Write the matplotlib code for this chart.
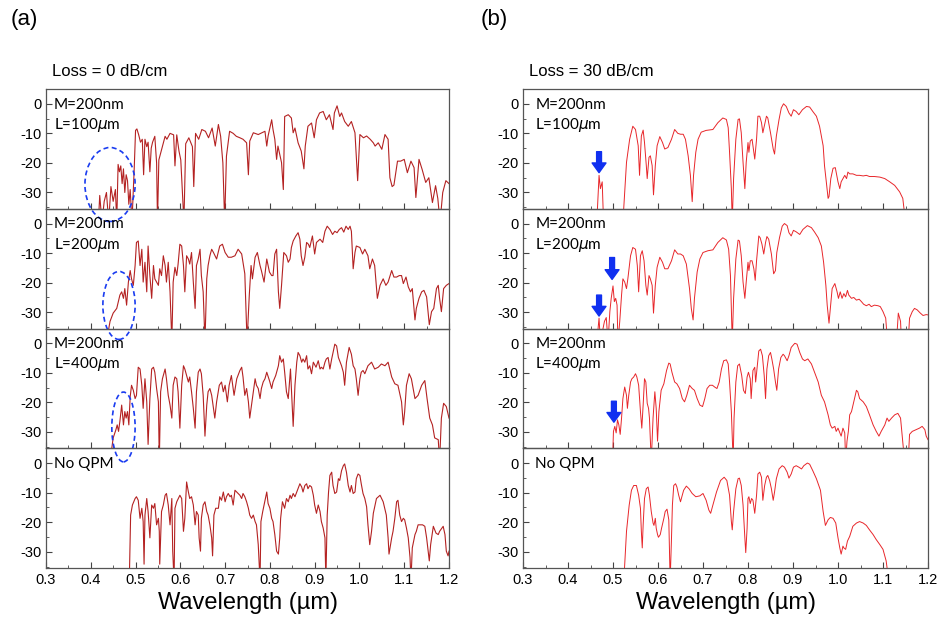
import matplotlib
matplotlib.use("Agg")
import matplotlib.pyplot as plt
from matplotlib.patches import Ellipse
from matplotlib.ticker import MultipleLocator

plt.rcParams['font.family'] = ['Liberation Sans', 'DejaVu Sans']

# ---- data: (wavelength um, power dB) ----
a1 = [(0.417, -40), (0.420, -31), (0.425, -40), (0.430, -33), (0.435, -30), (0.440, -40), (0.445, -28),
      (0.450, -33), (0.455, -29), (0.458, -40), (0.461, -20.5), (0.464, -23), (0.467, -21), (0.470, -27),
      (0.473, -22), (0.476, -30), (0.479, -24), (0.482, -26), (0.485, -34), (0.488, -29), (0.492, -40),
      (0.497, -22), (0.500, -9), (0.503, -8.5), (0.507, -10.5), (0.511, -13), (0.515, -12), (0.518, -24),
      (0.521, -12), (0.525, -14.5), (0.528, -13), (0.532, -23), (0.535, -15), (0.538, -13), (0.543, -11),
      (0.547, -20), (0.549, -40), (0.552, -19), (0.559, -15), (0.566, -11), (0.570, -12), (0.577, -10),
      (0.585, -10.5), (0.588, -21), (0.592, -10.5), (0.597, -16), (0.601, -19), (0.608, -40), (0.612, -13.5),
      (0.619, -11.5), (0.627, -14.5), (0.630, -28), (0.634, -10), (0.641, -12), (0.648, -8.7), (0.656, -9.3),
      (0.663, -11.5), (0.671, -8.2), (0.678, -14.3), (0.685, -7), (0.690, -11), (0.695, -20), (0.699, -40),
      (0.703, -17.7), (0.710, -9.3), (0.718, -10), (0.725, -11), (0.733, -11.5), (0.740, -12), (0.748, -13.2),
      (0.752, -24), (0.755, -12.6), (0.763, -9.8), (0.774, -10.4), (0.782, -9.8), (0.789, -9.3), (0.793, -14.3),
      (0.796, -10.9), (0.804, -5.4), (0.807, -8.7), (0.811, -12), (0.815, -18.8), (0.818, -14.3), (0.826, -19.9),
      (0.830, -29), (0.833, -4.3), (0.841, -3.7), (0.848, -4.8), (0.852, -9.8), (0.856, -8.2), (0.863, -13.2),
      (0.870, -16), (0.876, -22), (0.879, -14.3), (0.885, -7.6), (0.893, -6.5), (0.899, -11.5), (0.904, -5.4),
      (0.911, -3.1), (0.919, -2.6), (0.926, -5.4), (0.933, -3.7), (0.941, -8.7), (0.944, -3.1), (0.950, -0.7),
      (0.956, -4.3), (0.960, -3.1), (0.967, -6), (0.975, -7.6), (0.982, -6), (0.990, -9.8), (0.996, -26),
      (1.001, -10.4), (1.009, -11.5), (1.016, -10.9), (1.024, -12), (1.031, -13.2), (1.035, -14.3),
      (1.042, -13.2), (1.050, -15.4), (1.057, -10.4), (1.064, -12), (1.068, -25), (1.073, -28), (1.077, -27.5),
      (1.085, -19.4), (1.092, -19.4), (1.100, -18.8), (1.107, -23.3), (1.115, -19.4), (1.122, -21.6),
      (1.126, -31.7), (1.133, -18.8), (1.140, -22.2), (1.148, -26.6), (1.155, -25), (1.163, -33.4),
      (1.170, -27.7), (1.175, -32), (1.180, -40), (1.186, -30), (1.193, -26), (1.200, -27)]

a2 = [(0.435, -40), (0.443, -33.1), (0.450, -30.3), (0.458, -28.7), (0.465, -24.2), (0.469, -23.1),
      (0.473, -25.3), (0.476, -22), (0.480, -27.6), (0.484, -19.8), (0.488, -15.9), (0.491, -18.7),
      (0.495, -20.9), (0.499, -14.2), (0.502, -6.4), (0.506, -5.9), (0.510, -14.2), (0.514, -8.7),
      (0.517, -19.8), (0.521, -13.1), (0.525, -23.1), (0.528, -7.6), (0.532, -17.6), (0.536, -25.3),
      (0.540, -14.2), (0.543, -18.7), (0.547, -19.8), (0.551, -20.9), (0.554, -15.3), (0.558, -17.6),
      (0.562, -10.9), (0.566, -14.2), (0.569, -19.8), (0.573, -13.1), (0.577, -23.1), (0.581, -40),
      (0.584, -19.8), (0.588, -14.8), (0.592, -17.6), (0.595, -13.7), (0.599, -7), (0.603, -7.6),
      (0.607, -14.2), (0.610, -23.1), (0.614, -10.9), (0.618, -12), (0.621, -13.7), (0.625, -9.8),
      (0.629, -19.8), (0.633, -28.7), (0.636, -14.2), (0.640, -12), (0.644, -8.7), (0.647, -17.6),
      (0.651, -23.1), (0.655, -40), (0.659, -18.7), (0.662, -14.2), (0.666, -10.9), (0.670, -8.7),
      (0.674, -9.8), (0.681, -12), (0.688, -7.6), (0.694, -7), (0.700, -9.8), (0.707, -11.4), (0.714, -11.4),
      (0.722, -10.9), (0.729, -8.7), (0.737, -10.3), (0.744, -17), (0.749, -40), (0.754, -24.2),
      (0.758, -14.2), (0.761, -18.7), (0.767, -11.4), (0.772, -9.8), (0.778, -14.2), (0.781, -15.9),
      (0.787, -19.8), (0.793, -12), (0.799, -16.4), (0.804, -17.6), (0.807, -17.6), (0.811, -10.3),
      (0.815, -8.7), (0.819, -23.1), (0.822, -28.7), (0.826, -20.9), (0.831, -9.8), (0.837, -10.9),
      (0.841, -13.1), (0.845, -12), (0.848, -8.1), (0.852, -5.9), (0.858, -4.2), (0.863, -3.1), (0.867, -5.3),
      (0.870, -10.9), (0.874, -14.2), (0.878, -11.4), (0.882, -6.4), (0.886, -7), (0.889, -8.1), (0.895, -4.2),
      (0.900, -10.3), (0.904, -6.4), (0.912, -5.3), (0.918, -6.4), (0.923, -2.6), (0.928, -0.9), (0.934, -2),
      (0.940, -3.7), (0.945, -2.6), (0.950, -3.1), (0.955, -2), (0.960, -1.4), (0.965, -2.9), (0.970, -0.9),
      (0.975, -2), (0.979, -0.9), (0.982, -2.6), (0.986, -15.3), (0.990, -9.8), (0.993, -7.6), (1.001, -8.1),
      (1.007, -10.3), (1.012, -8.7), (1.019, -10.9), (1.023, -15.3), (1.029, -12), (1.034, -14.2),
      (1.040, -25.3), (1.046, -20.9), (1.053, -18.7), (1.059, -20.9), (1.064, -19.8), (1.072, -15.9),
      (1.077, -18.1), (1.083, -18.1), (1.089, -17.6), (1.094, -17.6), (1.098, -20.3), (1.104, -18.1),
      (1.109, -21.4), (1.114, -23.1), (1.118, -22), (1.124, -32.6), (1.127, -28.7), (1.133, -25.3),
      (1.139, -23.1), (1.144, -22.6), (1.150, -24.8), (1.156, -34.2), (1.161, -29.8), (1.166, -28.7),
      (1.172, -22), (1.176, -20.9), (1.179, -25.3), (1.183, -29.8), (1.188, -22), (1.194, -20.9), (1.200, -20.3)]

a3 = [(0.443, -40), (0.450, -32), (0.456, -29.3), (0.459, -27.6), (0.462, -29.8), (0.465, -26.4),
      (0.469, -20.9), (0.473, -27.6), (0.476, -23.1), (0.479, -25.3), (0.482, -23.1), (0.485, -27.6),
      (0.488, -18.1), (0.491, -14.2), (0.495, -15.9), (0.499, -18.7), (0.502, -17.6), (0.506, -8.1),
      (0.510, -8.7), (0.514, -14.2), (0.517, -22), (0.521, -12), (0.525, -19.8), (0.528, -34.2),
      (0.532, -18.7), (0.536, -8.7), (0.540, -8.1), (0.543, -9.8), (0.547, -15.3), (0.551, -19.8),
      (0.553, -40), (0.556, -16.4), (0.560, -12), (0.566, -8.7), (0.569, -12), (0.573, -17.6), (0.577, -20.9),
      (0.581, -25.3), (0.584, -14.2), (0.588, -11.4), (0.592, -12), (0.595, -16.4), (0.599, -28.7),
      (0.603, -14.2), (0.607, -7.6), (0.610, -8.7), (0.614, -10.9), (0.618, -13.1), (0.621, -11.4),
      (0.625, -16.4), (0.629, -22), (0.633, -28.7), (0.636, -16.4), (0.640, -9.8), (0.644, -8.7),
      (0.647, -10.3), (0.651, -17.6), (0.655, -31.4), (0.659, -20.9), (0.662, -16.4), (0.666, -15.3),
      (0.670, -17.6), (0.674, -22), (0.677, -25.3), (0.681, -19.8), (0.687, -14.2), (0.692, -13.1),
      (0.696, -16.4), (0.700, -14.2), (0.705, -19.8), (0.709, -14.2), (0.714, -10.9), (0.720, -17.6),
      (0.726, -12), (0.733, -9.2), (0.737, -8.1), (0.740, -11.4), (0.744, -17.6), (0.748, -15.3),
      (0.752, -19.8), (0.755, -25.3), (0.759, -20.9), (0.763, -16.4), (0.767, -12), (0.770, -14.2),
      (0.774, -15.3), (0.778, -18.7), (0.781, -15.3), (0.785, -13.1), (0.789, -12), (0.793, -9.8),
      (0.799, -12.6), (0.804, -15.3), (0.807, -13.1), (0.813, -10.9), (0.819, -7.6), (0.822, -4.2),
      (0.826, -6.4), (0.830, -5.3), (0.833, -9.8), (0.837, -16.4), (0.841, -18.7), (0.846, -8.7),
      (0.852, -28.1), (0.856, -14.2), (0.860, -6.4), (0.863, -3.1), (0.867, -4.2), (0.871, -6.4),
      (0.874, -5.3), (0.878, -6.4), (0.882, -4.2), (0.885, -8.7), (0.889, -7.6), (0.893, -10.3),
      (0.897, -6.4), (0.903, -8.1), (0.908, -5.9), (0.912, -8.7), (0.915, -8.1), (0.919, -8.7),
      (0.923, -6.4), (0.926, -5.3), (0.930, -4.8), (0.934, -8.7), (0.938, -5.3), (0.941, -3.1),
      (0.945, -0.3), (0.949, -0.9), (0.953, -4.8), (0.960, -7.6), (0.964, -9.8), (0.967, -14.2),
      (0.971, -6.4), (0.977, -1.4), (0.982, -3.7), (0.986, -7.6), (0.990, -8.7), (0.993, -12),
      (0.997, -17.6), (1.001, -12), (1.004, -9.8), (1.008, -9.2), (1.012, -10.3), (1.019, -7.6),
      (1.027, -6.4), (1.034, -8.7), (1.042, -8.1), (1.049, -7), (1.057, -7.6), (1.064, -6.4), (1.072, -11.4),
      (1.079, -13.7), (1.086, -14.2), (1.094, -19.8), (1.098, -27.6), (1.101, -23.1), (1.105, -14.2),
      (1.111, -10.3), (1.116, -12), (1.124, -18.7), (1.131, -17.6), (1.139, -14.2), (1.146, -12.6),
      (1.151, -18.7), (1.157, -25.3), (1.163, -27.6), (1.168, -32), (1.176, -32.6), (1.179, -40),
      (1.183, -25.3), (1.188, -20.3), (1.194, -21.4), (1.200, -25.3)]

a4 = [(0.486, -40), (0.489, -17.6), (0.493, -14.2), (0.499, -12), (0.502, -11.4), (0.506, -12.6),
      (0.510, -18.7), (0.514, -15.3), (0.517, -19.8), (0.519, -34.2), (0.521, -17.6), (0.525, -12),
      (0.528, -16.4), (0.532, -25.3), (0.536, -14.2), (0.540, -15.3), (0.543, -13.7), (0.547, -20.9),
      (0.551, -18.7), (0.553, -23.1), (0.554, -34.2), (0.558, -16.4), (0.562, -14.2), (0.566, -10.9),
      (0.569, -10.3), (0.573, -14.2), (0.577, -20.9), (0.581, -12), (0.583, -29.8), (0.586, -40),
      (0.588, -15.3), (0.592, -13.1), (0.599, -10.9), (0.603, -12), (0.607, -23.1), (0.610, -18.7),
      (0.614, -6.4), (0.618, -9.8), (0.621, -12), (0.625, -11.4), (0.629, -14.2), (0.633, -20.9),
      (0.636, -16.4), (0.640, -17.6), (0.642, -25.3), (0.645, -29.8), (0.647, -18.7), (0.651, -14.2),
      (0.655, -13.1), (0.659, -16.4), (0.662, -17.6), (0.666, -20.9), (0.670, -25.3), (0.672, -31.4),
      (0.675, -17.6), (0.679, -15.3), (0.685, -15.3), (0.688, -11.4), (0.692, -12.6), (0.696, -9.8),
      (0.700, -13.1), (0.703, -11.4), (0.707, -10.3), (0.711, -11.4), (0.714, -10.9), (0.718, -14.2),
      (0.722, -9.2), (0.726, -9.8), (0.729, -10.3), (0.733, -10.9), (0.737, -12), (0.740, -10.3),
      (0.744, -11.4), (0.748, -13.1), (0.752, -15.3), (0.755, -17.6), (0.759, -18.7), (0.763, -17.6),
      (0.767, -19.8), (0.770, -20.9), (0.774, -27.6), (0.778, -40), (0.780, -19.8), (0.784, -16.4),
      (0.787, -14.2), (0.793, -9.8), (0.796, -13.7), (0.800, -15.3), (0.804, -18.7), (0.807, -19.8),
      (0.811, -24.2), (0.815, -29.8), (0.819, -30.8), (0.822, -25.3), (0.824, -18.7), (0.828, -13.1),
      (0.833, -15.3), (0.837, -12), (0.841, -13.1), (0.845, -10.9), (0.848, -12), (0.852, -10.3),
      (0.856, -11.4), (0.860, -9.8), (0.863, -8.7), (0.867, -7), (0.871, -8.1), (0.874, -9.8), (0.878, -7.6),
      (0.882, -7), (0.885, -8.7), (0.889, -7.6), (0.893, -8.1), (0.897, -10.9), (0.900, -14.2), (0.904, -17),
      (0.908, -14.2), (0.912, -16.4), (0.915, -19.8), (0.919, -22), (0.923, -25.3), (0.925, -40),
      (0.928, -17.6), (0.931, -9.8), (0.934, -4.2), (0.938, -3.1), (0.941, -7.6), (0.945, -10.3),
      (0.949, -9.8), (0.953, -5.3), (0.956, -5.9), (0.960, -2.6), (0.964, -0.9), (0.967, -0.3), (0.971, -3.1),
      (0.975, -7.6), (0.979, -9.8), (0.982, -7.6), (0.986, -10.3), (0.990, -9.8), (0.993, -5.3),
      (0.997, -3.7), (1.001, -4.2), (1.004, -7), (1.008, -10.3), (1.012, -12), (1.016, -14.8),
      (1.019, -20.9), (1.023, -27.6), (1.027, -23.1), (1.031, -17), (1.038, -12), (1.046, -10.9),
      (1.053, -13.1), (1.060, -17.6), (1.064, -25.3), (1.066, -30.8), (1.072, -25.3), (1.075, -23.1),
      (1.079, -18.7), (1.083, -13.1), (1.086, -12.6), (1.090, -17.6), (1.094, -19.8), (1.098, -18.7),
      (1.101, -19.2), (1.105, -22), (1.109, -25.3), (1.113, -32), (1.115, -40), (1.118, -28.7),
      (1.124, -24.2), (1.127, -23.1), (1.131, -20.9), (1.135, -20.9), (1.141, -20.9), (1.146, -21.4),
      (1.150, -25.3), (1.156, -33.1), (1.159, -27.6), (1.165, -21.4), (1.171, -23.7), (1.176, -24.2),
      (1.179, -23.1), (1.187, -21.4), (1.191, -24.2), (1.194, -29.8), (1.198, -31.4), (1.200, -29.8)]

b1 = [(0.464, -40), (0.469, -24.2), (0.472, -28.7), (0.476, -26.4), (0.479, -40), (0.522, -40),
      (0.530, -19.8), (0.537, -12), (0.544, -7.6), (0.550, -8.7), (0.556, -14.2), (0.559, -24.2),
      (0.563, -10.9), (0.567, -8.9), (0.570, -13.1), (0.574, -20.9), (0.576, -25.3), (0.580, -18.1),
      (0.583, -17.6), (0.587, -20.9), (0.590, -30.8), (0.594, -20.9), (0.598, -14.2), (0.604, -11.1),
      (0.610, -13.1), (0.615, -15.3), (0.622, -14.8), (0.630, -12), (0.637, -8.7), (0.644, -10),
      (0.650, -10.3), (0.656, -10.3), (0.661, -12), (0.667, -17.6), (0.672, -24.2), (0.676, -33.1),
      (0.679, -24.2), (0.684, -16.4), (0.689, -12), (0.696, -9.6), (0.707, -9), (0.722, -8.7), (0.733, -6.4),
      (0.744, -4.8), (0.752, -5.3), (0.756, -8.1), (0.759, -16.4), (0.763, -28.7), (0.765, -40),
      (0.768, -25.3), (0.773, -12), (0.778, -5.3), (0.781, -5.1), (0.785, -9.8), (0.789, -19.8),
      (0.793, -28.7), (0.796, -19.8), (0.800, -13.1), (0.802, -16.4), (0.805, -12.6), (0.809, -12),
      (0.811, -14.2), (0.815, -18.7), (0.819, -12), (0.822, -4.2), (0.826, -4.2), (0.830, -6.4),
      (0.833, -9.8), (0.837, -7), (0.841, -4.2), (0.844, -4.8), (0.850, -9.8), (0.856, -15.3), (0.859, -17),
      (0.863, -10.9), (0.869, -5.3), (0.874, -1.4), (0.879, 0), (0.885, -0.9), (0.891, -3.1), (0.896, -4.2),
      (0.901, -2), (0.907, -2.6), (0.913, -3.7), (0.921, -2), (0.930, -0.9), (0.937, -1.1), (0.944, -2.6),
      (0.952, -4.2), (0.959, -7.6), (0.967, -14.2), (0.970, -20.9), (0.974, -26.4), (0.978, -32),
      (0.980, -31.4), (0.984, -25.3), (0.989, -21.8), (0.994, -21.6), (1.000, -26.4), (1.004, -28.7),
      (1.007, -26.4), (1.011, -25.3), (1.015, -24.2), (1.019, -25.3), (1.022, -23.1), (1.026, -23.7),
      (1.033, -23.7), (1.041, -24.2), (1.048, -24.2), (1.056, -24.4), (1.063, -24.2), (1.070, -24.6),
      (1.081, -24.6), (1.093, -24.8), (1.104, -25.3), (1.115, -26.4), (1.126, -27.6), (1.137, -29.8),
      (1.144, -32), (1.150, -40)]

b2 = [(0.464, -40), (0.469, -32), (0.472, -40), (0.481, -33.1), (0.485, -31.8), (0.489, -40), (0.493, -29.8),
      (0.496, -25.3), (0.500, -21.1), (0.503, -26.4), (0.506, -25.3), (0.509, -27.6), (0.511, -40),
      (0.515, -33.1), (0.519, -24.2), (0.522, -18.7), (0.526, -19.8), (0.530, -22), (0.533, -18.7),
      (0.539, -10.9), (0.544, -8.1), (0.550, -8.7), (0.554, -14.2), (0.557, -23.1), (0.561, -10.9),
      (0.565, -9.2), (0.569, -12.6), (0.573, -20.9), (0.576, -24.2), (0.580, -17.6), (0.583, -18.7),
      (0.587, -20.9), (0.590, -30.3), (0.594, -20.9), (0.598, -14.8), (0.604, -11.4), (0.610, -13.1),
      (0.615, -15.3), (0.622, -15.3), (0.630, -12.6), (0.637, -8.9), (0.644, -10.3), (0.650, -10.3),
      (0.656, -10.9), (0.663, -13.7), (0.670, -22), (0.674, -28.7), (0.678, -32.6), (0.681, -25.3),
      (0.687, -16.4), (0.693, -12), (0.700, -9.8), (0.711, -9.2), (0.722, -8.9), (0.733, -6.4), (0.744, -4.8),
      (0.752, -5.6), (0.757, -8.7), (0.761, -17.6), (0.765, -40), (0.768, -25.3), (0.773, -12), (0.778, -5.6),
      (0.781, -5.9), (0.785, -10.9), (0.789, -19.8), (0.793, -25.3), (0.796, -19.8), (0.800, -13.1),
      (0.802, -15.9), (0.805, -12.6), (0.809, -12.6), (0.813, -15.3), (0.816, -19.2), (0.819, -12.6),
      (0.824, -4.2), (0.827, -4.8), (0.831, -7), (0.835, -10.3), (0.839, -6.4), (0.842, -4.4), (0.846, -5.3),
      (0.852, -10.3), (0.857, -17), (0.861, -15.9), (0.864, -9.8), (0.870, -4.8), (0.876, -0.9), (0.881, 0),
      (0.887, -0.7), (0.891, -3.1), (0.896, -4.2), (0.901, -2.3), (0.907, -2.8), (0.915, -3.7), (0.922, -2),
      (0.932, -0.7), (0.941, -1.4), (0.948, -2.9), (0.956, -4.8), (0.963, -7.6), (0.968, -13.1),
      (0.973, -20.9), (0.976, -27.6), (0.980, -33.7), (0.983, -28.7), (0.987, -22), (0.993, -20.3),
      (0.998, -23.1), (1.001, -25.3), (1.005, -23.1), (1.009, -25.3), (1.013, -23.7), (1.017, -24.8),
      (1.021, -22.6), (1.024, -24.2), (1.030, -25.3), (1.035, -25), (1.041, -25.9), (1.047, -25.6),
      (1.052, -26.4), (1.057, -27.3), (1.063, -27.8), (1.069, -27.3), (1.074, -28.1), (1.081, -27.6),
      (1.089, -27.8), (1.094, -28.1), (1.100, -29.8), (1.106, -32), (1.110, -40), (1.130, -40),
      (1.134, -30.3), (1.139, -33.1), (1.141, -40), (1.156, -40), (1.159, -32), (1.165, -29.8),
      (1.170, -28.7), (1.176, -29.2), (1.183, -30.3), (1.189, -31.1), (1.196, -30.8), (1.200, -30.9)]

b3 = [(0.499, -40), (0.501, -29.8), (0.504, -28.1), (0.507, -30.3), (0.510, -25.9), (0.513, -27.6),
      (0.516, -30.8), (0.519, -25.3), (0.522, -18.7), (0.526, -14.8), (0.530, -17.6), (0.532, -22),
      (0.535, -17.6), (0.539, -13.1), (0.542, -12), (0.546, -11.4), (0.550, -10.3), (0.553, -11.4),
      (0.557, -14.2), (0.561, -23.1), (0.564, -28.7), (0.567, -20.9), (0.570, -12), (0.573, -13.1),
      (0.576, -20.3), (0.579, -22), (0.581, -25.3), (0.585, -40), (0.589, -25.3), (0.593, -16.4),
      (0.596, -22), (0.599, -33.1), (0.602, -23.1), (0.607, -15.9), (0.613, -13.7), (0.619, -9.2),
      (0.624, -6.7), (0.627, -7), (0.631, -9.8), (0.637, -13.1), (0.642, -13.7), (0.648, -15.3),
      (0.654, -18.7), (0.659, -19.8), (0.664, -17.6), (0.670, -14.2), (0.676, -15.3), (0.681, -15.9),
      (0.687, -18.7), (0.693, -20.9), (0.699, -21.4), (0.704, -18.7), (0.709, -15.3), (0.715, -14.2),
      (0.721, -14.2), (0.726, -14.8), (0.731, -15.3), (0.736, -13.1), (0.741, -8.7), (0.746, -5.9),
      (0.752, -5.6), (0.756, -7), (0.759, -13.1), (0.763, -23.1), (0.767, -40), (0.769, -25.3), (0.773, -13.1),
      (0.777, -7.6), (0.781, -7), (0.786, -10.9), (0.790, -15.9), (0.794, -17), (0.798, -11.4), (0.801, -9.8),
      (0.805, -12), (0.807, -18.7), (0.811, -9.2), (0.815, -8.1), (0.817, -13.1), (0.820, -8.7), (0.824, -2.6),
      (0.828, -2), (0.832, -4.2), (0.836, -10.9), (0.839, -18.7), (0.842, -8.7), (0.846, -4.2), (0.850, -3.1),
      (0.853, -5.3), (0.857, -8.7), (0.861, -13.1), (0.864, -15.9), (0.868, -8.7), (0.873, -4.8),
      (0.878, -3.7), (0.881, -4.2), (0.887, -5.9), (0.891, -4.2), (0.896, -1.4), (0.904, 0), (0.909, -0.3),
      (0.915, -3.1), (0.921, -5.3), (0.926, -5.9), (0.933, -5.3), (0.941, -7), (0.948, -9.8), (0.956, -13.1),
      (0.963, -17.6), (0.970, -19.8), (0.978, -24.2), (0.983, -27.6), (0.987, -28.7), (0.993, -28.1),
      (0.996, -29.8), (1.000, -28.7), (1.004, -30.3), (1.007, -31.4), (1.011, -28.7), (1.015, -30.3),
      (1.017, -40), (1.020, -33.1), (1.023, -29.8), (1.026, -24.2), (1.030, -23.1), (1.035, -19.8),
      (1.041, -15.9), (1.044, -16.4), (1.048, -18.7), (1.056, -19.8), (1.063, -21.4), (1.070, -24.2),
      (1.078, -27.6), (1.085, -29.8), (1.091, -31.4), (1.096, -29.8), (1.104, -27.6), (1.109, -25.3),
      (1.113, -26.4), (1.119, -25.3), (1.126, -24.2), (1.133, -23.7), (1.139, -25.3), (1.143, -32),
      (1.148, -40), (1.156, -40), (1.159, -30.8), (1.165, -29.8), (1.174, -29.2), (1.181, -28.7),
      (1.187, -28.1), (1.193, -29.2), (1.196, -31.4), (1.200, -32.6)]

b4 = [(0.524, -40), (0.530, -23.1), (0.536, -14.2), (0.541, -9.2), (0.546, -7.6), (0.552, -7.6),
      (0.557, -10.9), (0.561, -15.3), (0.563, -23.1), (0.565, -28.7), (0.567, -20.9), (0.570, -12),
      (0.574, -8.7), (0.578, -8.1), (0.581, -10.9), (0.585, -16.4), (0.589, -20.3), (0.591, -21.1),
      (0.594, -18.7), (0.596, -22), (0.599, -24.2), (0.601, -25.1), (0.605, -24.2), (0.608, -22),
      (0.613, -18.7), (0.616, -16.4), (0.620, -15.6), (0.624, -19.2), (0.627, -40), (0.630, -25.3),
      (0.632, -14.2), (0.635, -7.6), (0.639, -7), (0.642, -8.1), (0.646, -10.9), (0.650, -13.1),
      (0.653, -11.4), (0.657, -9.2), (0.663, -7.8), (0.669, -8.7), (0.676, -10.3), (0.684, -11.4),
      (0.693, -11.1), (0.700, -10.3), (0.707, -12.6), (0.713, -15.9), (0.717, -17), (0.722, -14.2),
      (0.730, -9.8), (0.739, -5.9), (0.747, -4.8), (0.753, -5.9), (0.759, -10.9), (0.763, -19.8),
      (0.765, -22.6), (0.768, -16.4), (0.773, -8.7), (0.778, -5.3), (0.781, -5.1), (0.785, -7.6),
      (0.789, -14.2), (0.793, -25.3), (0.795, -30.3), (0.798, -22), (0.800, -12), (0.802, -11.4),
      (0.805, -13.7), (0.808, -12), (0.811, -12.6), (0.815, -17), (0.819, -10.9), (0.822, -3.7),
      (0.826, -3.1), (0.830, -4.8), (0.833, -12.6), (0.837, -7.6), (0.841, -4.8), (0.844, -4.2),
      (0.848, -5.9), (0.852, -8.7), (0.856, -12.6), (0.859, -9.8), (0.863, -5.3), (0.869, -2), (0.876, -0.9),
      (0.881, -1.4), (0.887, -3.1), (0.891, -5.1), (0.896, -3.7), (0.901, -1.4), (0.907, -0.9), (0.913, -1.4),
      (0.919, -2), (0.924, -0.9), (0.932, 0), (0.937, -0.4), (0.944, -2.6), (0.952, -5.3), (0.961, -9.2),
      (0.967, -16.4), (0.972, -21.1), (0.978, -19.2), (0.983, -18.4), (0.989, -18.7), (0.995, -20.3),
      (1.000, -25.3), (1.004, -28.7), (1.007, -30.8), (1.011, -28.1), (1.013, -28.7), (1.017, -29.2),
      (1.021, -26.4), (1.026, -24.8), (1.033, -21.4), (1.041, -20.3), (1.048, -19.8), (1.056, -20.3),
      (1.063, -21.1), (1.070, -22.6), (1.078, -24.2), (1.085, -25.9), (1.093, -27.6), (1.100, -29.2),
      (1.107, -33.1), (1.113, -40)]

left_curves = [a1, a2, a3, a4]
right_curves = [b1, b2, b3, b4]
labels = [("M=200nm", r"L=100$\mu$m"), ("M=200nm", r"L=200$\mu$m"),
          ("M=200nm", r"L=400$\mu$m"), ("No QPM", None)]

# ellipses on the left column: (center x, center y, width, height) per panel
ellipses = [(0.443, -27.3, 0.112, 25), (0.463, -27.7, 0.072, 23), (0.473, -28.3, 0.052, 23.6)]
# arrows on the right column: (panel, x, tail y, tip y)
arrows = [(0, 0.469, -16.2, -23.3), (1, 0.498, -11.5, -18.9), (1, 0.469, -24.2, -31.3), (2, 0.502, -19.6, -26.7)]

W, H = 943, 621
fig = plt.figure(figsize=(W / 100, H / 100), dpi=100)

top_px, panel_h = 89, 119.75
columns = [(46, 403, left_curves, '#b42222', 0.8, 0.019),
           (523, 405, right_curves, '#e8262a', 0.7, 0.03)]
axes = {}
for c, (x0, wpx, curves, col, lw, tx) in enumerate(columns):
    for i, data in enumerate(curves):
        bottom = H - (top_px + (i + 1) * panel_h)
        ax = fig.add_axes([x0 / W, bottom / H, wpx / W, panel_h / H])
        ax.set_facecolor('none')
        wl = [p[0] for p in data]
        db = [p[1] for p in data]
        ax.plot(wl, db, color=col, lw=lw)
        ax.set_xlim(0.3, 1.2)
        ax.set_ylim(-35.5, 5)
        ax.xaxis.set_major_locator(MultipleLocator(0.1))
        ax.xaxis.set_minor_locator(MultipleLocator(0.05))
        ax.set_yticks([0, -10, -20, -30])
        ax.yaxis.set_minor_locator(MultipleLocator(5))
        ax.tick_params(which='both', direction='in', top=False, right=False, labelsize=10.5, color='#444')
        ax.tick_params(which='major', length=4)
        ax.tick_params(which='minor', length=2.5)
        ax.set_yticklabels(['0', '-10', '-20', '-30'])
        for s in ax.spines.values():
            s.set_color('#555')
            s.set_linewidth(0.9)
        if i < 3:
            ax.tick_params(labelbottom=False)
        else:
            ax.set_xticklabels([f"{v:.1f}" for v in ax.get_xticks()])
            ax.set_xlabel("Wavelength (\u00b5m)", fontsize=17, labelpad=4)
        l1, l2 = labels[i]
        ax.text(tx, 0.87, l1, transform=ax.transAxes, fontsize=11, va='center',
                family=['Lato', 'DejaVu Sans'])
        if l2:
            ax.text(tx, 0.70, l2, transform=ax.transAxes, fontsize=11, va='center',
                    family=['Lato', 'DejaVu Sans'])
        axes[(c, i)] = ax

for i, (cx, cy, ew, eh) in enumerate(ellipses):
    axes[(0, i)].add_patch(Ellipse((cx, cy), ew, eh, fill=False, ec='#1a3cf0', lw=1.2,
                                   ls=(0, (3, 2)), clip_on=False, zorder=10))

for p, x, ytail, ytip in arrows:
    axes[(1, p)].annotate('', xy=(x, ytip), xytext=(x, ytail),
                          arrowprops=dict(color='#1030f0', width=3.5, headwidth=10, headlength=7),
                          annotation_clip=False)

fig.text(24 / W, 1 - 20 / H, "(a)", fontsize=16, ha='center', va='center')
fig.text(494 / W, 1 - 20 / H, "(b)", fontsize=16, ha='center', va='center')
fig.text(52 / W, 1 - 71 / H, "Loss = 0 dB/cm", fontsize=12, va='center')
fig.text(529 / W, 1 - 71 / H, "Loss = 30 dB/cm", fontsize=12, va='center')

fig.savefig("out.png", dpi=100)
